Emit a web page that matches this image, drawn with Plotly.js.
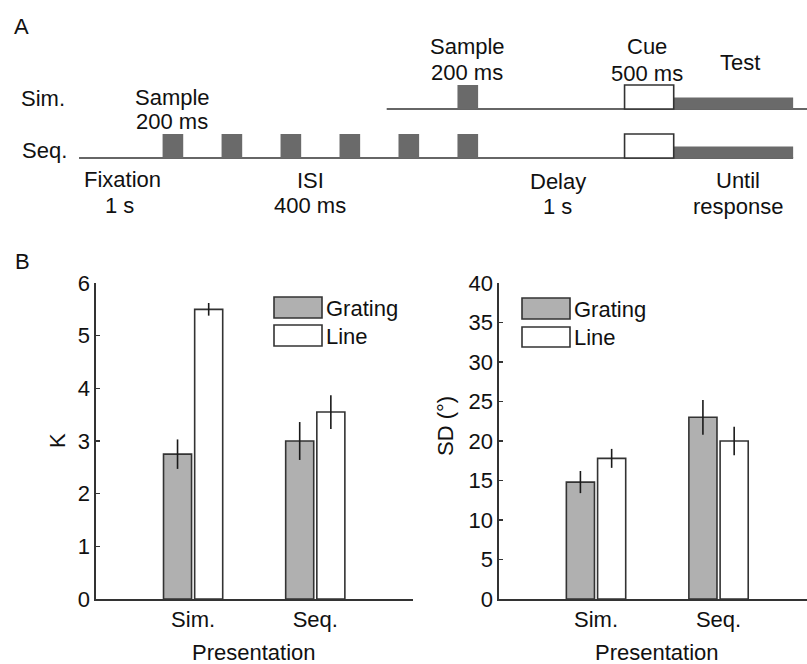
<!DOCTYPE html>
<html>
<head>
<meta charset="utf-8">
<script src="https://cdn.plot.ly/plotly-3.0.1.min.js"></script>
<style>
html,body{margin:0;padding:0;background:#fff;}
#chart{width:807px;height:664px;}
</style>
</head>
<body>
<div id="chart"></div>
<script>
// ---------- Data ----------
var categories = ['Sim.', 'Seq.'];
var kGrating = [2.75, 3.0];
var kGratingErr = [0.28, 0.36];
var kLine = [5.5, 3.55];
var kLineErr = [0.12, 0.32];
var sdGrating = [14.8, 23.0];
var sdGratingErr = [1.4, 2.2];
var sdLine = [17.8, 20.0];
var sdLineErr = [1.2, 1.8];
var kTicks = [0, 1, 2, 3, 4, 5, 6];
var sdTicks = [0, 5, 10, 15, 20, 25, 30, 35, 40];

// Panel A timeline (diagram ms, as drawn)
var seqSampleOnsets = [850, 1450, 2050, 2650, 3250, 3850];
var simSampleOnsets = [3850];
var sampleDur = 210;
var seqLineStart = 0;
var simLineStart = 3130;
var cueOnset = 5550;
var cueDur = 500;
var testEnd = 7265;

// ---------- Helpers ----------
var W = 807, H = 664;
function px(x) { return x / W; }
function py(y) { return 1 - y / H; }
var FONT = '"Liberation Sans", Arial, Helvetica, sans-serif';
var TXT = '#111111';
var DARK = '#333333';
var BLOCK = '#6a6a6a';
var GRAY = '#b0b0b0';
var FS = 22;

function ann(text, x, y, extra) {
  var a = {
    text: text, xref: 'paper', yref: 'paper', x: px(x), y: py(y),
    xanchor: 'center', yanchor: 'middle', showarrow: false,
    font: {family: FONT, size: FS, color: TXT}
  };
  for (var k in extra) a[k] = extra[k];
  return a;
}

// ---------- Traces ----------
var errStyle = {type: 'data', width: 0, thickness: 1.6, color: '#1a1a1a', visible: true};
function err(arr) { var e = {}; for (var k in errStyle) e[k] = errStyle[k]; e.array = arr; return e; }

var traces = [
  {type: 'bar', x: categories, y: kGrating, name: 'Grating', xaxis: 'x', yaxis: 'y',
   marker: {color: GRAY, line: {color: DARK, width: 1.6}}, error_y: err(kGratingErr), showlegend: false, hoverinfo: 'y'},
  {type: 'bar', x: categories, y: kLine, name: 'Line', xaxis: 'x', yaxis: 'y',
   marker: {color: '#ffffff', line: {color: DARK, width: 1.6}}, error_y: err(kLineErr), showlegend: false, hoverinfo: 'y'},
  {type: 'bar', x: categories, y: sdGrating, name: 'Grating', xaxis: 'x2', yaxis: 'y2',
   marker: {color: GRAY, line: {color: DARK, width: 1.6}}, error_y: err(sdGratingErr), showlegend: false, hoverinfo: 'y'},
  {type: 'bar', x: categories, y: sdLine, name: 'Line', xaxis: 'x2', yaxis: 'y2',
   marker: {color: '#ffffff', line: {color: DARK, width: 1.6}}, error_y: err(sdLineErr), showlegend: false, hoverinfo: 'y'}
];

// ---------- Shapes ----------
var shapes = [];
var blockH = 0.49, testH = 0.235;
shapes.push({type: 'line', xref: 'x3', yref: 'y3', x0: seqLineStart, x1: testEnd, y0: 0, y1: 0, line: {color: DARK, width: 1.6}});
shapes.push({type: 'line', xref: 'x3', yref: 'y3', x0: simLineStart, x1: 7500, y0: 1, y1: 1, line: {color: DARK, width: 1.6}});
seqSampleOnsets.forEach(function (t) {
  shapes.push({type: 'rect', xref: 'x3', yref: 'y3', x0: t, x1: t + sampleDur, y0: 0, y1: blockH, fillcolor: BLOCK, line: {width: 0}});
});
simSampleOnsets.forEach(function (t) {
  shapes.push({type: 'rect', xref: 'x3', yref: 'y3', x0: t, x1: t + sampleDur, y0: 1, y1: 1 + blockH, fillcolor: BLOCK, line: {width: 0}});
});
[0, 1].forEach(function (row) {
  shapes.push({type: 'rect', xref: 'x3', yref: 'y3', x0: cueOnset + cueDur, x1: testEnd, y0: row, y1: row + testH, fillcolor: BLOCK, line: {width: 0}});
  shapes.push({type: 'rect', xref: 'x3', yref: 'y3', x0: cueOnset, x1: cueOnset + cueDur, y0: row, y1: row + blockH, fillcolor: '#ffffff', line: {color: DARK, width: 1.6}});
});
function sw(x0, x1, y0, y1, fill) {
  shapes.push({type: 'rect', xref: 'paper', yref: 'paper', x0: px(x0), x1: px(x1), y0: py(y1), y1: py(y0), fillcolor: fill, line: {color: DARK, width: 1.6}});
}
sw(274, 322, 297, 318, GRAY);
sw(274, 322, 325, 346, '#ffffff');
sw(522, 570, 298, 319, GRAY);
sw(522, 570, 327, 347, '#ffffff');

// ---------- Annotations ----------
var anns = [
  ann('A', 21, 27),
  ann('B', 22, 261),
  ann('Sim.', 43, 98),
  ann('Seq.', 44, 151),
  ann('Sample', 172, 97), ann('200 ms', 172, 121),
  ann('Sample', 467, 47), ann('200 ms', 467, 72),
  ann('Cue', 647, 47), ann('500 ms', 647, 73),
  ann('Test', 740, 62),
  ann('Fixation', 122, 179), ann('1 s', 119, 205),
  ann('ISI', 310, 180), ann('400 ms', 310, 205.5),
  ann('Delay', 558, 181), ann('1 s', 557, 206),
  ann('Until', 738, 180), ann('response', 738, 206),
  ann('K', 57, 441, {textangle: -90}),
  ann('SD (°)', 445, 426, {textangle: -90}),
  ann('Presentation', 254, 652),
  ann('Presentation', 657, 652),
  ann('Grating', 324, 308, {xanchor: 'left'}),
  ann('Line', 324, 336, {xanchor: 'left'}),
  ann('Grating', 572, 309, {xanchor: 'left'}),
  ann('Line', 572, 337, {xanchor: 'left'})
];

// ---------- Axes ----------
var yDom = [1 - 599 / H, 1 - 283 / H];
function xAx(dom, range, anchor) {
  return {domain: dom, range: range, type: 'category', showline: true, linecolor: DARK, linewidth: 1.6,
    ticks: '', showgrid: false, zeroline: false, fixedrange: true,
    tickfont: {family: FONT, size: FS, color: TXT}, anchor: anchor};
}
function yAx(range, tv, anchor) {
  return {domain: yDom, range: range, tickvals: tv, ticks: 'inside', ticklen: 4, tickcolor: DARK, tickwidth: 1.2,
    showline: true, linecolor: DARK, linewidth: 1.6, showgrid: false, zeroline: false, fixedrange: true,
    tickfont: {family: FONT, size: FS, color: TXT}, anchor: anchor};
}

var layout = {
  width: W, height: H,
  margin: {l: 0, r: 0, t: 0, b: 0, pad: 0},
  paper_bgcolor: '#ffffff', plot_bgcolor: 'rgba(0,0,0,0)',
  font: {family: FONT, size: FS, color: TXT},
  barmode: 'group', bargap: 0.49, bargroupgap: 0.1,
  showlegend: false,
  xaxis: xAx([96 / W, 413 / W], [-0.795, 1.80], 'y'),
  yaxis: yAx([0, 6], kTicks, 'x'),
  xaxis2: xAx([499 / W, 1], [-0.792, 1.722], 'y2'),
  yaxis2: yAx([0, 40], sdTicks, 'x2'),
  xaxis3: {domain: [0, 1], range: [-804, 7406], visible: false, fixedrange: true, anchor: 'y3'},
  yaxis3: {domain: [0, 1], range: [-10.327, 3.2245], visible: false, fixedrange: true, anchor: 'x3'},
  shapes: shapes,
  annotations: anns
};

Plotly.newPlot('chart', traces, layout, {displayModeBar: false, staticPlot: true});
</script>
</body>
</html>
